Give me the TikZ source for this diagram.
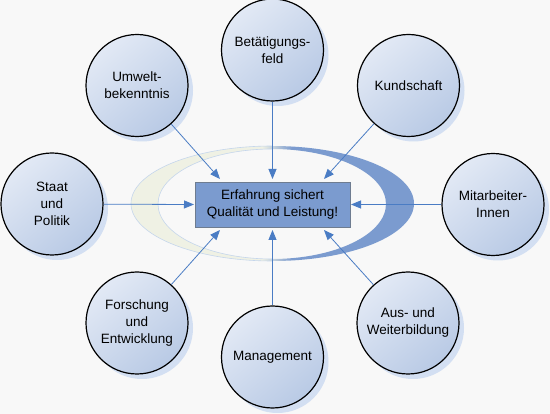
\documentclass[tikz,border=0pt]{standalone}
\usepackage{fontspec}
\setmainfont{Liberation Sans}
\usetikzlibrary{arrows.meta,shadows}
\definecolor{bg}{HTML}{F8F8F8}
\definecolor{arrowblue}{HTML}{4A7CC4}
\definecolor{boxblue}{HTML}{7B9BCF}
\definecolor{boxline}{HTML}{6E7C90}
\definecolor{circlelight}{HTML}{E2E9F5}
\definecolor{circledark}{HTML}{B9CAE5}
\definecolor{shadowblue}{HTML}{D3DFF2}
\definecolor{swooshlight}{HTML}{EFF1E4}
\definecolor{swooshblue}{HTML}{7B9BCF}
\definecolor{swooshline}{HTML}{C5D6EC}
\begin{document}
\begin{tikzpicture}[x=1pt,y=-1pt,
  topic/.style={circle, minimum size=102pt, inner sep=0pt, draw=black,
    line width=1.2pt, top color=circlelight, bottom color=circledark,
    shading angle=40,
    drop shadow={shadow xshift=5pt, shadow yshift=-5pt, fill=shadowblue, opacity=1},
    align=center, font=\fontsize{13.5}{17}\selectfont, text=black},
  centrebox/.style={rectangle, minimum width=155pt, minimum height=45pt,
    inner sep=0pt, fill=boxblue, draw=boxline, line width=0.6pt,
    align=center, font=\fontsize{13.5}{17}\selectfont, text=black},
  arr/.style={draw=arrowblue, line width=0.8pt,
    -{Triangle[length=10pt,width=8pt]}},
]
\useasboundingbox (0,0) rectangle (550,414);
\fill[bg] (0,0) rectangle (550,414);

% swoosh
\begin{scope}[even odd rule]
  \clip (272.5,203.5) ellipse [x radius=141.5, y radius=57.5]
        (272,204) ellipse [x radius=114, y radius=55];
  \fill[swooshlight] (120,140) rectangle (262,270);
  \shade[left color=swooshlight, right color=swooshblue] (262,140) rectangle (292,270);
  \fill[swooshblue] (292,140) rectangle (430,270);
\end{scope}
\begin{scope}
  \clip (120,140) rectangle (272,270);
  \draw[swooshline, line width=0.6pt] (272.5,203.5) ellipse [x radius=141.5, y radius=57.5];
  \draw[swooshline, line width=0.6pt] (272,204) ellipse [x radius=114, y radius=55];
\end{scope}

% centre
\node[centrebox] (c) at (272.5,204.5) {Erfahrung sichert\\Qualität und Leistung!};

% topics
\node[topic] (bet) at (272.5,50) {Betätigungs-\\feld};
\node[topic] (umw) at (137,85.5) {Umwelt-\\bekenntnis};
\node[topic] (kun) at (408.5,85.5) {Kundschaft};
\node[topic] (sta) at (52,204) {Staat\\und\\Politik};
\node[topic] (mit) at (493,204.5) {Mitarbeiter-\\Innen};
\node[topic] (for) at (137,323) {Forschung\\und\\Entwicklung};
\node[topic] (man) at (272.5,357) {Management};
\node[topic] (aus) at (408,323) {Aus- und\\Weiterbildung};

% arrow tips
\coordinate (ttl) at (220,179);
\coordinate (tt)  at (272.5,179);
\coordinate (ttr) at (324,179);
\coordinate (tl)  at (194,204.5);
\coordinate (tr)  at (351,204.5);
\coordinate (tbl) at (220,230);
\coordinate (tb)  at (272.5,230);
\coordinate (tbr) at (324,230);

\draw[arr] (umw) -- (ttl);
\draw[arr] (bet) -- (tt);
\draw[arr] (kun) -- (ttr);
\draw[arr] (sta) -- (tl);
\draw[arr] (mit) -- (tr);
\draw[arr] (for) -- (tbl);
\draw[arr] (man) -- (tb);
\draw[arr] (aus) -- (tbr);
\end{tikzpicture}
\end{document}
